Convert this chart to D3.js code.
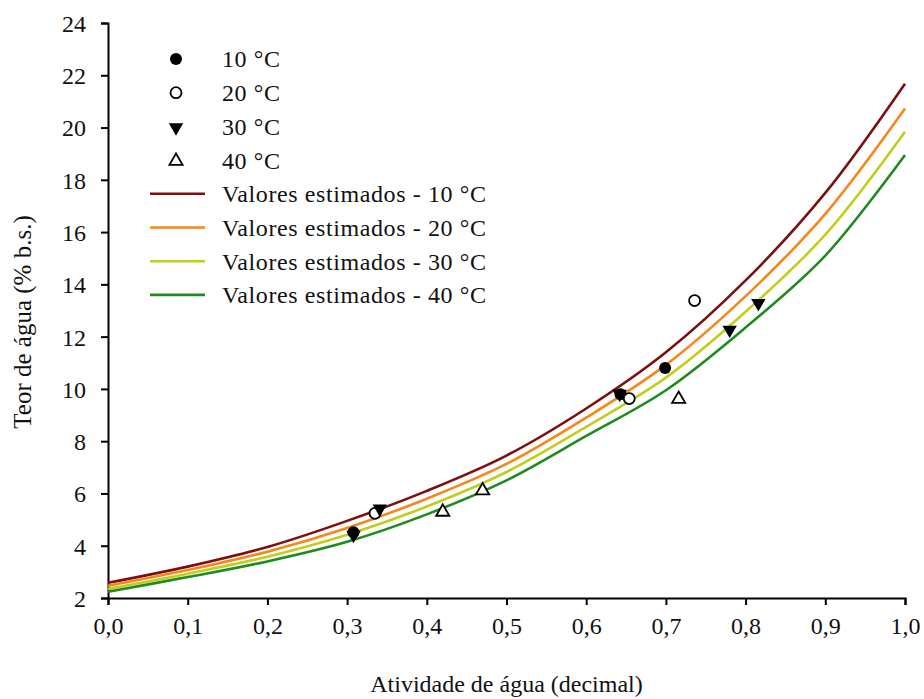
<!DOCTYPE html>
<html>
<head>
<meta charset="utf-8">
<script src="https://cdn.jsdelivr.net/npm/d3@7"></script>
<style>
  body { margin: 0; background: #fff; }
</style>
</head>
<body>
<div id="viz"></div>
<script>
const width = 924;
const height = 699;
const margin = {top: 23, left: 108, bottom: 101, right: 19};
const serif = '"Liberation Serif", "Tinos", "Noto Serif", "DejaVu Serif", "FreeSerif", "Times New Roman", serif';

// water activity grid used for the estimated curves
const awGrid = [0, 0.1, 0.2, 0.3, 0.4, 0.5, 0.6, 0.7, 0.8, 0.9, 1.0];
const est10 = [2.58, 3.20, 3.95, 4.95, 6.10, 7.45, 9.25, 11.40, 14.15, 17.50, 21.68];
const est20 = [2.47, 3.07, 3.77, 4.68, 5.80, 7.13, 8.90, 10.92, 13.55, 16.70, 20.73];
const est30 = [2.35, 2.93, 3.58, 4.42, 5.50, 6.82, 8.55, 10.43, 12.95, 15.90, 19.84];
const est40 = [2.24, 2.80, 3.40, 4.15, 5.20, 6.50, 8.20, 9.95, 12.35, 15.10, 18.95];

// observed values
const obs10 = [[0.308, 4.52], [0.643, 9.80], [0.699, 10.80]];
const obs20 = [[0.335, 5.24], [0.654, 9.63], [0.736, 13.38]];
const obs30 = [[0.308, 4.45], [0.341, 5.46], [0.642, 9.85], [0.780, 12.30], [0.816, 13.32]];
const obs40 = [[0.420, 5.33], [0.470, 6.15], [0.716, 9.65]];

const xTicks = [0, 0.1, 0.2, 0.3, 0.4, 0.5, 0.6, 0.7, 0.8, 0.9, 1.0];
const yTicks = [2, 4, 6, 8, 10, 12, 14, 16, 18, 20, 22, 24];

const tempLabels = ['10 °C', '20 °C', '30 °C', '40 °C'];
const lineColors = ['#7b1010', '#f7861b', '#bfcf1c', '#1f8a1f'];

const svg = d3.select('#viz')
      .append('svg')
      .attr('width', width)
      .attr('height', height)
      .style('font-family', serif);

const x = d3.scaleLinear()
      .domain([0, 1])
      .range([margin.left, width - margin.right]);

const y = d3.scaleLinear()
      .domain([2, 24])
      .range([height - margin.bottom, margin.top]);

// axes
const fmt = d => d3.format('.1f')(d).replace('.', ',');

const xAxis = svg.append('g')
      .attr('transform', `translate(0,${height - margin.bottom})`)
      .call(d3.axisBottom(x).tickValues(xTicks).tickSize(7).tickPadding(12).tickFormat(fmt));

const yAxis = svg.append('g')
      .attr('transform', `translate(${margin.left},0)`)
      .call(d3.axisLeft(y).tickValues(yTicks).tickSize(7).tickPadding(15).tickFormat(d3.format('d')));

[xAxis, yAxis].forEach(a => {
  a.attr('font-family', serif).attr('font-size', 24);
  a.select('.domain').attr('stroke', '#000').attr('stroke-width', 2);
  a.selectAll('.tick line').attr('stroke', '#000').attr('stroke-width', 2);
  a.selectAll('.tick text').attr('fill', '#111');
});
xAxis.selectAll('.tick text').attr('dy', '0.71em');
yAxis.selectAll('.tick text').attr('dy', '0.35em');

// axis titles
svg.append('text')
  .attr('x', (margin.left + width - margin.right) / 2)
  .attr('y', 692)
  .attr('text-anchor', 'middle')
  .attr('font-family', serif)
  .attr('font-size', 24)
  .attr('fill', '#111')
  .text('Atividade de água (decimal)');

svg.append('text')
  .attr('transform', `translate(31,322) rotate(-90)`)
  .attr('text-anchor', 'middle')
  .attr('font-family', serif)
  .attr('font-size', 25)
  .attr('fill', '#111')
  .text('Teor de água (% b.s.)');

// estimated curves
const line = d3.line()
      .x(d => x(d[0]))
      .y(d => y(d[1]))
      .curve(d3.curveCatmullRom);

[est10, est20, est30, est40].forEach((vals, i) => {
  svg.append('path')
    .datum(awGrid.map((a, j) => [a, vals[j]]))
    .attr('fill', 'none')
    .attr('stroke', lineColors[i])
    .attr('stroke-width', 2.6)
    .attr('d', line);
});

// markers
const triDown = d3.symbol().type(d3.symbolTriangle).size(90);
const triUp = d3.symbol().type(d3.symbolTriangle).size(75);

function drawMarker(g, kind, cx, cy) {
  if (kind === 0) {
    g.append('circle').attr('cx', cx).attr('cy', cy).attr('r', 6).attr('fill', '#000');
  } else if (kind === 1) {
    g.append('circle').attr('cx', cx).attr('cy', cy).attr('r', 5.5)
      .attr('fill', '#fff').attr('stroke', '#000').attr('stroke-width', 1.8);
  } else if (kind === 2) {
    g.append('path').attr('d', triDown)
      .attr('transform', `translate(${cx},${cy + 1}) rotate(180)`).attr('fill', '#000');
  } else {
    g.append('path').attr('d', triUp)
      .attr('transform', `translate(${cx},${cy + 1})`)
      .attr('fill', '#fff').attr('stroke', '#000').attr('stroke-width', 1.8);
  }
}

const points = svg.append('g');
[obs10, obs20, obs30, obs40].forEach((pts, i) => {
  pts.forEach(p => drawMarker(points, i, x(p[0]), y(p[1])));
});

// legend
const legend = svg.append('g');
const rowH = 33.7;
const legendTop = 59;

tempLabels.forEach((t, i) => {
  const cy = legendTop + i * rowH;
  drawMarker(legend, i, 176, cy);
  legend.append('text')
    .attr('x', 222).attr('y', cy).attr('dy', '0.35em')
    .attr('font-family', serif)
    .attr('font-size', 24)
    .attr('letter-spacing', 0.6)
    .attr('fill', '#111')
    .text(t);
});

tempLabels.forEach((t, i) => {
  const cy = legendTop + (i + 4) * rowH;
  legend.append('line')
    .attr('x1', 150).attr('x2', 205)
    .attr('y1', cy).attr('y2', cy)
    .attr('stroke', lineColors[i])
    .attr('stroke-width', 2.6);
  legend.append('text')
    .attr('x', 222).attr('y', cy).attr('dy', '0.35em')
    .attr('font-family', serif)
    .attr('font-size', 24)
    .attr('letter-spacing', 0.6)
    .attr('fill', '#111')
    .text('Valores estimados - ' + t);
});
</script>
</body>
</html>
